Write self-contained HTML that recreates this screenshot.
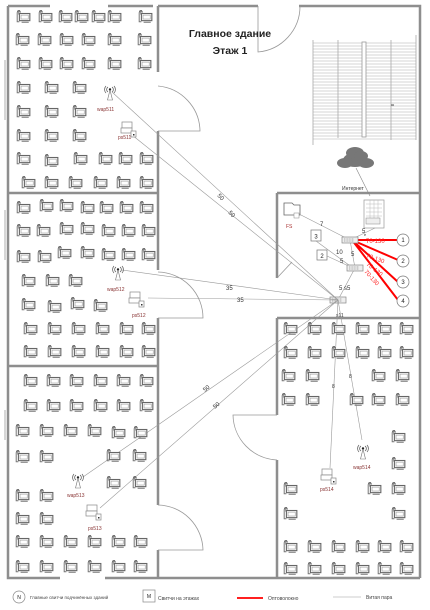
<!DOCTYPE html>
<html><head><meta charset="utf-8"><style>
html,body{margin:0;padding:0;background:#fff;}
svg{display:block;}
text{font-family:"Liberation Sans","DejaVu Sans",sans-serif;}
</style></head><body>
<svg width="430" height="610" viewBox="0 0 430 610" xmlns="http://www.w3.org/2000/svg">
<defs>
<g id="pc0">
<path d="M2 4 l1 -2 M5 4 l-1 -2 M3.5 2 v4" stroke="#555" stroke-width="0.8" fill="none"/>
<rect x="4" y="5" width="9.5" height="6.5" fill="#f4f4f4" stroke="#666" stroke-width="1"/>
<rect x="5.5" y="6.5" width="6.5" height="3.5" fill="#fff" stroke="#999" stroke-width="0.5"/>
<path d="M6 13 h6.5 M2 4 v8.5 h2" stroke="#777" stroke-width="0.9" fill="none"/>
</g>
<g id="pc"><use href="#pc0" transform="scale(1.1)"/></g>
<g id="wap">
<path d="M-4 -4 a5 5 0 0 0 0 7 M4 -4 a5 5 0 0 1 0 7 M-2 -3 a3 3 0 0 0 0 5 M2 -3 a3 3 0 0 1 0 5" stroke="#555" stroke-width="0.7" fill="none"/>
<circle cx="0" cy="-0.5" r="1.2" fill="#222"/>
<path d="M0 0 L-2.5 10 H2.5 Z" fill="#fff" stroke="#777" stroke-width="0.6"/>
</g>
<g id="ps">
<rect x="-6" y="-6" width="10" height="6" fill="#fff" stroke="#888" stroke-width="0.7"/>
<rect x="-7" y="0" width="11" height="5" fill="#fff" stroke="#888" stroke-width="0.7"/>
<rect x="3" y="3" width="5" height="6" fill="#fff" stroke="#888" stroke-width="0.7"/>
<rect x="5" y="6" width="1.5" height="1.5" fill="#333"/>
</g>
<g id="sw">
<rect x="-8" y="-3" width="16" height="6" fill="#eee" stroke="#888" stroke-width="0.7"/>
<path d="M-6 -1 h10 M-6 1 h10" stroke="#666" stroke-width="0.5" stroke-dasharray="1 0.6"/>
</g>
</defs>

<!-- walls -->
<g stroke="#8e8e8e" stroke-width="2.5" fill="none">
<path d="M8 6 H50 M108 6 H153"/>
<path d="M158 6 H258 M299 6 H420 V578"/>
<path d="M8 6 V578 H60 M105 578 H420"/>
<path d="M158 6 V72 M158 131 V270 M158 318 V505 M158 550 V578"/>
<path d="M8 193 H158 M8 366 H158"/>
<path d="M277 193 H420 M277 193 V278 M277 318 V415 M277 460 V578 M277 318 H420"/>
</g>
<g stroke="#bbb" stroke-width="1.2" fill="none">
<path d="M5 60 V120 M5 210 V260 M5 410 V440"/>
</g>
<!-- doors -->
<g stroke="#999" stroke-width="0.8" fill="none">
<path d="M258 6 V52 A46 46 0 0 0 300 6"/>
<path d="M158 86 A46 46 0 0 1 200 131 H158"/>
<path d="M158 272 A46 46 0 0 1 203 318 H158"/>
<path d="M158 505 A46 46 0 0 1 203 550 H158"/>
<path d="M277 415 H233 A46 46 0 0 0 277 460"/>
<path d="M277 278 L292 262"/>
</g>

<!-- stairs -->
<g stroke="#aaa" stroke-width="0.5">
<path d="M313 40 V145 M338 40 V138 M391 40 V140 M416 35 V140" stroke-width="0.8"/>
<path d="M313 43H416M313 46H416M313 49H416M313 52H416M313 55H416M313 58H416M313 61H416M313 64H416M313 67H416M313 70H416M313 73H416M313 76H416M313 79H416M313 82H416M313 85H416M313 88H416M313 91H416M313 94H416M313 97H416M313 100H416M313 103H416M313 106H416M313 109H416M313 112H416M313 115H416M313 118H416M313 121H416M313 124H416M313 127H416M313 130H416M313 133H416M313 136H416M313 139H416"/>
</g>
<rect x="362" y="42" width="4" height="95" fill="#fff" stroke="#999" stroke-width="0.8"/>
<path d="M391 105 H394" stroke="#555"/>

<text x="230" y="37" font-size="10.5" font-weight="bold" text-anchor="middle" fill="#222">Главное здание</text>
<text x="230" y="54" font-size="10.5" font-weight="bold" text-anchor="middle" fill="#222">Этаж 1</text>

<!-- cloud -->
<g fill="#777">
<ellipse cx="355" cy="160" rx="12" ry="7"/><ellipse cx="345" cy="163" rx="8" ry="5"/><ellipse cx="366" cy="163" rx="8" ry="5"/><ellipse cx="355" cy="153" rx="9" ry="6"/><ellipse cx="361" cy="156" rx="7" ry="5"/>
</g>
<text x="342" y="190" font-size="5" fill="#333">Интернет</text>
<path d="M356 168 L370 196" stroke="#888" stroke-width="0.6"/>

<!-- server room -->
<rect x="364" y="200" width="20" height="28" fill="#fff" stroke="#999" stroke-width="0.7"/>
<path d="M366 204h16M366 208h16M366 212h16M366 216h16M370 200v20M374 200v20M378 200v20" stroke="#bbb" stroke-width="0.5"/>
<rect x="366" y="218" width="14" height="6" fill="#eee" stroke="#888" stroke-width="0.5"/>
<path d="M284 203 h8 l2 2 h6 v10 h-16 z" fill="#fff" stroke="#666" stroke-width="0.8"/>
<rect x="294" y="213" width="5" height="5" fill="#fff" stroke="#888" stroke-width="0.5"/>
<text x="286" y="228" font-size="5" fill="#a33">FS</text>
<rect x="311" y="230" width="10" height="11" fill="#fff" stroke="#777" stroke-width="0.7"/>
<text x="316" y="238.5" font-size="6" text-anchor="middle" fill="#222">3</text>
<rect x="317" y="250" width="10" height="10" fill="#fff" stroke="#777" stroke-width="0.7"/>
<text x="322" y="258" font-size="6" text-anchor="middle" fill="#222">2</text>

<g stroke="#999" stroke-width="0.6" fill="none">
<path d="M299 214 L350 240"/>
<path d="M375 228 L350 240"/>
<path d="M316 241 L353 268"/>
<path d="M327 256 L353 268"/>
<path d="M350 240 L355 268"/>
<path d="M355 268 L338 300"/>
</g>
<g font-size="6" fill="#333">
<text x="320" y="226">7</text><text x="362" y="233">5</text><text x="336" y="254">10</text><text x="340" y="263">5</text><text x="351" y="256">5</text><text x="339" y="290">5 s5</text><text x="364" y="236" font-size="4">e</text><text x="336" y="317" font-size="5">s11</text>
</g>
<g stroke="#f00" stroke-width="2">
<path d="M352 240 L398 240 M352 240 L398 260 M352 240 L398 282 M352 240 L398 300"/>
</g>
<g font-size="6" fill="#f22">
<text x="366" y="243">70-130</text>
<text x="366" y="257" transform="rotate(20 366 257)">70-130</text>
<text x="366" y="265" transform="rotate(38 366 265)">70-130</text>
<text x="364" y="272" transform="rotate(48 364 272)">70-130</text>
</g>
<g fill="#fff" stroke="#777" stroke-width="0.7">
<circle cx="403" cy="240" r="6"/><circle cx="403" cy="261" r="6"/><circle cx="403" cy="282" r="6"/><circle cx="403" cy="301" r="6"/>
</g>
<g font-size="6" text-anchor="middle" fill="#222">
<text x="403" y="242">1</text><text x="403" y="263">2</text><text x="403" y="284">3</text><text x="403" y="303">4</text>
</g>
<use href="#sw" x="350" y="240"/>
<use href="#sw" x="355" y="268"/>
<use href="#sw" x="338" y="300"/>

<!-- twisted pair lines -->
<g stroke="#999" stroke-width="0.6" fill="none">
<path d="M112 92 L338 300"/>
<path d="M132 135 L338 300"/>
<path d="M122 270 L338 300"/>
<path d="M148 298 L338 300"/>
<path d="M83 477 L338 300"/>
<path d="M100 508 L338 300"/>
<path d="M338 300 L330 468"/>
<path d="M338 300 L362 440"/>
</g>
<g font-size="6" fill="#333">
<text x="217" y="196" transform="rotate(45 217 196)">50</text>
<text x="228" y="213" transform="rotate(45 228 213)">50</text>
<text x="226" y="290">35</text><text x="237" y="302">35</text>
<text x="205" y="392" transform="rotate(-40 205 392)">50</text>
<text x="215" y="409" transform="rotate(-40 215 409)">50</text>
<text x="332" y="388" font-size="5">8</text><text x="349" y="378" font-size="5">8</text>
</g>

<!-- devices -->
<use href="#wap" x="110" y="90"/><text x="97" y="111" font-size="5" fill="#833">wap511</text>
<use href="#ps" x="128" y="128"/><text x="118" y="139" font-size="5" fill="#833">ps511</text>
<use href="#wap" x="118" y="270"/><text x="107" y="291" font-size="5" fill="#833">wap512</text>
<use href="#ps" x="136" y="298"/><text x="132" y="317" font-size="5" fill="#833">ps512</text>
<use href="#wap" x="78" y="478"/><text x="67" y="497" font-size="5" fill="#833">wap513</text>
<use href="#ps" x="93" y="511"/><text x="88" y="530" font-size="5" fill="#833">ps513</text>
<use href="#wap" x="363" y="449"/><text x="353" y="469" font-size="5" fill="#833">wap514</text>
<use href="#ps" x="328" y="475"/><text x="320" y="491" font-size="5" fill="#833">ps514</text>

<!-- computers -->
<g>
<use href="#pc" x="15" y="8"/><use href="#pc" x="37" y="8"/><use href="#pc" x="57" y="8"/><use href="#pc" x="73" y="8"/><use href="#pc" x="90" y="8"/><use href="#pc" x="106" y="8"/><use href="#pc" x="137" y="8"/>
<use href="#pc" x="14" y="31"/><use href="#pc" x="36" y="31"/><use href="#pc" x="58" y="31"/><use href="#pc" x="80" y="31"/><use href="#pc" x="106" y="31"/><use href="#pc" x="136" y="31"/>
<use href="#pc" x="15" y="55"/><use href="#pc" x="37" y="55"/><use href="#pc" x="58" y="55"/><use href="#pc" x="80" y="55"/><use href="#pc" x="106" y="55"/><use href="#pc" x="136" y="55"/>
<use href="#pc" x="15" y="79"/><use href="#pc" x="43" y="79"/><use href="#pc" x="71" y="79"/>
<use href="#pc" x="15" y="103"/><use href="#pc" x="43" y="103"/><use href="#pc" x="71" y="103"/>
<use href="#pc" x="15" y="127"/><use href="#pc" x="43" y="127"/><use href="#pc" x="71" y="127"/>
<use href="#pc" x="15" y="150"/><use href="#pc" x="43" y="152"/><use href="#pc" x="72" y="150"/><use href="#pc" x="97" y="150"/><use href="#pc" x="117" y="150"/><use href="#pc" x="138" y="150"/>
<use href="#pc" x="20" y="174"/><use href="#pc" x="43" y="174"/><use href="#pc" x="67" y="174"/><use href="#pc" x="92" y="174"/><use href="#pc" x="115" y="174"/><use href="#pc" x="138" y="174"/>
<use href="#pc" x="15" y="199"/><use href="#pc" x="38" y="197"/><use href="#pc" x="58" y="197"/><use href="#pc" x="79" y="199"/><use href="#pc" x="98" y="199"/><use href="#pc" x="118" y="199"/><use href="#pc" x="138" y="199"/>
<use href="#pc" x="15" y="222"/><use href="#pc" x="35" y="222"/><use href="#pc" x="58" y="220"/><use href="#pc" x="79" y="220"/><use href="#pc" x="100" y="222"/><use href="#pc" x="120" y="222"/><use href="#pc" x="140" y="222"/>
<use href="#pc" x="15" y="248"/><use href="#pc" x="36" y="248"/><use href="#pc" x="56" y="244"/><use href="#pc" x="79" y="244"/><use href="#pc" x="100" y="246"/><use href="#pc" x="120" y="246"/><use href="#pc" x="140" y="246"/>
<use href="#pc" x="20" y="272"/><use href="#pc" x="44" y="272"/><use href="#pc" x="67" y="272"/>
<use href="#pc" x="20" y="296"/><use href="#pc" x="46" y="298"/><use href="#pc" x="69" y="295"/><use href="#pc" x="92" y="297"/>
<use href="#pc" x="22" y="320"/><use href="#pc" x="46" y="320"/><use href="#pc" x="70" y="320"/><use href="#pc" x="94" y="320"/><use href="#pc" x="118" y="320"/><use href="#pc" x="140" y="320"/>
<use href="#pc" x="22" y="343"/><use href="#pc" x="46" y="343"/><use href="#pc" x="70" y="343"/><use href="#pc" x="94" y="343"/><use href="#pc" x="118" y="343"/><use href="#pc" x="140" y="343"/>
<use href="#pc" x="22" y="372"/><use href="#pc" x="45" y="372"/><use href="#pc" x="68" y="372"/><use href="#pc" x="92" y="372"/><use href="#pc" x="115" y="372"/><use href="#pc" x="138" y="372"/>
<use href="#pc" x="22" y="397"/><use href="#pc" x="45" y="397"/><use href="#pc" x="68" y="397"/><use href="#pc" x="92" y="397"/><use href="#pc" x="115" y="397"/><use href="#pc" x="138" y="397"/>
<use href="#pc" x="14" y="422"/><use href="#pc" x="38" y="422"/><use href="#pc" x="62" y="422"/><use href="#pc" x="86" y="422"/><use href="#pc" x="110" y="424"/><use href="#pc" x="132" y="424"/>
<use href="#pc" x="14" y="448"/><use href="#pc" x="38" y="448"/><use href="#pc" x="105" y="447"/><use href="#pc" x="131" y="447"/>
<use href="#pc" x="14" y="487"/><use href="#pc" x="38" y="487"/><use href="#pc" x="105" y="474"/><use href="#pc" x="131" y="474"/>
<use href="#pc" x="14" y="510"/><use href="#pc" x="38" y="510"/>
<use href="#pc" x="14" y="533"/><use href="#pc" x="38" y="533"/><use href="#pc" x="62" y="533"/><use href="#pc" x="86" y="533"/><use href="#pc" x="110" y="533"/><use href="#pc" x="132" y="533"/>
<use href="#pc" x="14" y="558"/><use href="#pc" x="38" y="558"/><use href="#pc" x="62" y="558"/><use href="#pc" x="86" y="558"/><use href="#pc" x="110" y="558"/><use href="#pc" x="132" y="558"/>
<use href="#pc" x="282" y="320"/><use href="#pc" x="306" y="320"/><use href="#pc" x="330" y="320"/><use href="#pc" x="354" y="320"/><use href="#pc" x="376" y="320"/><use href="#pc" x="398" y="320"/>
<use href="#pc" x="282" y="344"/><use href="#pc" x="306" y="344"/><use href="#pc" x="330" y="344"/><use href="#pc" x="354" y="344"/><use href="#pc" x="376" y="344"/><use href="#pc" x="398" y="344"/>
<use href="#pc" x="280" y="367"/><use href="#pc" x="304" y="367"/><use href="#pc" x="370" y="367"/><use href="#pc" x="394" y="367"/>
<use href="#pc" x="280" y="391"/><use href="#pc" x="304" y="391"/><use href="#pc" x="348" y="391"/><use href="#pc" x="370" y="391"/><use href="#pc" x="394" y="391"/>
<use href="#pc" x="390" y="428"/><use href="#pc" x="390" y="455"/>
<use href="#pc" x="282" y="480"/><use href="#pc" x="366" y="480"/><use href="#pc" x="390" y="480"/>
<use href="#pc" x="282" y="505"/><use href="#pc" x="390" y="505"/>
<use href="#pc" x="282" y="538"/><use href="#pc" x="306" y="538"/><use href="#pc" x="330" y="538"/><use href="#pc" x="354" y="538"/><use href="#pc" x="376" y="538"/><use href="#pc" x="398" y="538"/>
<use href="#pc" x="282" y="560"/><use href="#pc" x="306" y="560"/><use href="#pc" x="330" y="560"/><use href="#pc" x="354" y="560"/><use href="#pc" x="376" y="560"/><use href="#pc" x="398" y="560"/>
</g>

<!-- legend -->
<circle cx="19" cy="597" r="6" fill="#fff" stroke="#888" stroke-width="0.7"/>
<text x="19" y="599" font-size="5" text-anchor="middle" fill="#222">N</text>
<text x="30" y="599" font-size="4.5" fill="#444">Главные свитчи подчинённых зданий</text>
<rect x="143" y="590" width="12" height="12" fill="#fff" stroke="#888" stroke-width="0.7"/>
<text x="149" y="598" font-size="5" text-anchor="middle" fill="#222">M</text>
<text x="158" y="600" font-size="5" fill="#444">Свитчи на этажах</text>
<path d="M237 598 H263" stroke="#f00" stroke-width="1.8"/>
<text x="268" y="600" font-size="5" fill="#444">Оптоволокно</text>
<path d="M333 597 H361" stroke="#bbb" stroke-width="0.7"/>
<text x="366" y="599" font-size="5" fill="#444">Витая пара</text>
</svg>
</body></html>
